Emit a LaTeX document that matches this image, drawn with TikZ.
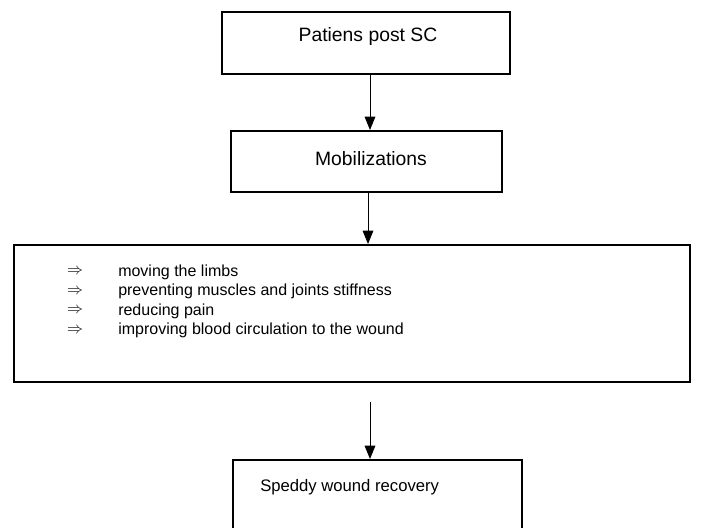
\documentclass[tikz,border=0pt]{standalone}
\usepackage{fontspec}
\setmainfont{Liberation Sans}
\usetikzlibrary{arrows.meta}
\begin{document}
\begin{tikzpicture}[x=0.75pt,y=-0.75pt,
  box/.style={draw=black,line width=1.5pt,rectangle,inner sep=0pt},
  lbl/.style={inner sep=0pt,font=\fontsize{12pt}{14pt}\selectfont},
  big/.style={inner sep=0pt,font=\fontsize{14.5pt}{16pt}\selectfont},
  itm/.style={inner sep=0pt,anchor=west,font=\fontsize{12pt}{14pt}\selectfont},
  arr/.style={line width=0.75pt,-{Triangle[length=10pt,width=8pt]}}]
\useasboundingbox (0,0) rectangle (704,528);
\clip (0,0) rectangle (704,528);
\fill[white] (0,0) rectangle (704,528);
% boxes
\node[box,minimum width=288*0.75pt,minimum height=62*0.75pt] (b1) at (366,43) {};
\node[box,minimum width=271*0.75pt,minimum height=61*0.75pt] (b2) at (366.5,161.5) {};
\node[box,minimum width=676*0.75pt,minimum height=137*0.75pt] (b3) at (352,313.5) {};
\node[box,minimum width=289*0.75pt,minimum height=90*0.75pt] (b4) at (377.5,505) {};
% labels
\node[big] (t1) at (368,37) {Patiens post SC};
\node[big] (t2) at (371,159) {Mobilizations};
\node[lbl,anchor=west,font=\fontsize{12.5pt}{14pt}\selectfont] (t4) at (260,487) {Speddy wound recovery};
% list
\node[lbl] (r1) at (75,272) {$\Rightarrow$};
\node[lbl] (r2) at (75,291.5) {$\Rightarrow$};
\node[lbl] (r3) at (75,311) {$\Rightarrow$};
\node[lbl] (r4) at (75,330.5) {$\Rightarrow$};
\node[itm] (i1) at (118,272) {moving the limbs};
\node[itm] (i2) at (118,291.5) {preventing muscles and joints stiffness};
\node[itm] (i3) at (118,311) {reducing pain};
\node[itm] (i4) at (118,330.5) {improving blood circulation to the wound};
% connectors
\coordinate (a1) at (370,0);
\coordinate (a2) at (368,0);
\coordinate (a3) at (370,402);
\draw[arr] (b1.south -| a1) -- (b2.north -| a1);
\draw[arr] (b2.south -| a2) -- (b3.north -| a2);
\draw[arr] (a3) -- (b4.north -| a3);
\end{tikzpicture}
\end{document}
